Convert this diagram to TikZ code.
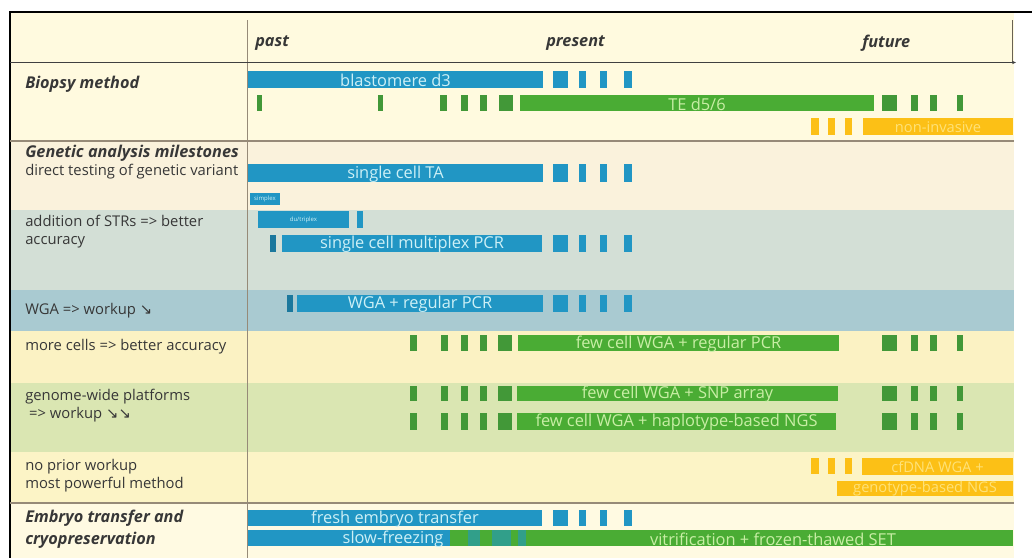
\documentclass[tikz,border=0pt]{standalone}
\usepackage{fontspec}
\setmainfont{Open Sans}
\newfontfamily\symfont{DejaVu Sans}
\usetikzlibrary{arrows.meta}

\definecolor{tlblue}{RGB}{33,150,196}
\definecolor{tlbluetxt}{RGB}{205,240,246}
\definecolor{tlgreen}{RGB}{74,172,52}
\definecolor{tldgreen}{RGB}{66,152,56}
\definecolor{tlgreentxt}{RGB}{200,238,165}
\definecolor{tlorange}{RGB}{252,192,22}
\definecolor{tlorangetxt}{RGB}{255,226,120}
\definecolor{bgcream}{RGB}{255,250,223}
\definecolor{bggenetic}{RGB}{250,242,220}
\definecolor{bgstr}{RGB}{211,223,214}
\definecolor{bgwga}{RGB}{169,202,209}
\definecolor{bgcells}{RGB}{251,242,195}
\definecolor{bggenome}{RGB}{218,230,178}
\definecolor{bgprior}{RGB}{252,244,198}
\definecolor{bgembryo}{RGB}{255,250,226}
\definecolor{tlline}{RGB}{150,138,120}
\definecolor{tllabel}{RGB}{55,55,55}

% bar with its text in the middle
\newcommand{\tlbar}[7]{\path[#1] (#3,#4) rectangle (#5,#6) node[midway,#1text] (#2) {#7};}
% dash groups that repeat from row to row
\newcommand{\bluedashes}[2]{\foreach \a/\b in {553/568,579/586,600/607,624/632}
  \fill[tlblue] (\a,#1) rectangle (\b,#2);}
\newcommand{\greenpre}[2]{\foreach \a/\b in {410/417,441/448,461/468,480/487,498/512}
  \fill[tldgreen] (\a,#1) rectangle (\b,#2);}
\newcommand{\greenpost}[2]{\foreach \a/\b in {882/897,911/918,930/937,957/963}
  \fill[tldgreen] (\a,#1) rectangle (\b,#2);}
\newcommand{\orangedashes}[2]{\foreach \a/\b in {811/819,828/835,845/852}
  \fill[tlorange] (\a,#1) rectangle (\b,#2);}

\begin{document}
\begin{tikzpicture}[x=0.75pt,y=-0.75pt]
\tikzstyle{bluebar}=[fill=tlblue]
\tikzstyle{bluebartext}=[text=tlbluetxt,font=\fontsize{12.3}{12.3}\selectfont,inner sep=0pt,yshift=-0.7pt]
\tikzstyle{greenbar}=[fill=tlgreen]
\tikzstyle{greenbartext}=[text=tlgreentxt,font=\fontsize{12.3}{12.3}\selectfont,inner sep=0pt,yshift=-0.7pt]
\tikzstyle{orangebar}=[fill=tlorange]
\tikzstyle{orangebartext}=[text=tlorangetxt,font=\fontsize{11}{11}\selectfont,inner sep=0pt,yshift=-0.5pt]
\tikzstyle{tinybar}=[fill=tlblue]
\tikzstyle{tinybartext}=[text=tlbluetxt,font=\fontsize{4.5}{4.5}\selectfont,inner sep=0pt]
\tikzstyle{rowlabel}=[anchor=west,inner sep=0pt,text=tllabel,align=left,
  font=\fontsize{11.1}{13.5}\selectfont]
\tikzstyle{headlabel}=[rowlabel,font=\fontsize{12.2}{16.5}\selectfont\bfseries\itshape]
\useasboundingbox (0,0) rectangle (1032,558);

% background bands
\fill[bgcream] (10,12) rectangle (1014,141);
\fill[bggenetic] (10,141) rectangle (1014,210);
\fill[bgstr] (10,210) rectangle (1014,290);
\fill[bgwga] (10,290) rectangle (1014,331);
\fill[bgcells] (10,331) rectangle (1014,383);
\fill[bggenome] (10,383) rectangle (1014,452);
\fill[bgprior] (10,452) rectangle (1014,503);
\fill[bgembryo] (10,503) rectangle (1014,558);

% frame and rules
\draw[line width=1.5pt] (1032,12) -- (10,12) -- (10,558);
\draw[tlline,line width=0.6pt] (247,20) -- (247,558);
\draw[tlline,line width=0.8pt] (10,141) -- (1014,141);
\draw[tlline,line width=0.8pt] (10,503) -- (1014,503);
\draw[tlline!70!black,line width=0.6pt] (1012,20) -- (1012,62);
\coordinate (tstart) at (10,62.5);
\coordinate (tend) at (1016,62.5);
\draw[black!75,line width=0.6pt,-{Stealth[length=3pt,width=2.5pt]}] (tstart) -- (tend);

% time axis
\node[headlabel] (past) at (255,43) {past};
\node[headlabel] (present) at (546,43) {present};
\node[headlabel] (future) at (862,43) {future};

% row labels
\node[headlabel] (biopsy) at (25,84) {Biopsy method};
\node[headlabel] (genetic) at (25,153) {Genetic analysis milestones};
\node[rowlabel] (direct) at (25,172) {direct testing of genetic variant};
\node[rowlabel] (strs) at (25,232) {addition of STRs => better\\accuracy};
\node[rowlabel] (wga) at (25,311) {WGA => workup {\symfont ↘}};
\node[rowlabel] (cells) at (25,347) {more cells => better accuracy};
\node[rowlabel] (genome) at (25,406) {genome-wide platforms\\\ => workup {\symfont ↘↘}};
\node[rowlabel] (prior) at (25,476) {no prior workup\\most powerful method};
\node[headlabel] (embryo) at (25,529) {Embryo transfer and\\cryopreservation};

% biopsy method
\tlbar{bluebar}{blastomere}{248}{71}{543}{88}{blastomere d3}
\bluedashes{71}{88}
\foreach \a/\b in {257/262,378/383,440/447,461/468,480/487,499/513}
  \fill[tldgreen] (\a,95) rectangle (\b,111);
\tlbar{greenbar}{trophect}{520}{95}{874}{111}{TE d5/6}
\greenpost{95}{111}
\orangedashes{118}{135}
\tlbar{orangebar}{noninv}{863}{118}{1013}{135}{non-invasive}

% genetic analysis milestones
\tlbar{bluebar}{singleTA}{248}{164}{543}{182}{single cell TA}
\bluedashes{164}{182}
\tlbar{tinybar}{simplex}{250}{193}{280}{205}{simplex}
\tlbar{tinybar}{triplex}{258}{211}{349}{228}{du/triplex}
\fill[tlblue] (357,211) rectangle (363,228);
\fill[tlblue!80!black] (270,235) rectangle (276,252);
\tlbar{bluebar}{multiplex}{282}{235}{542}{252}{single cell multiplex PCR}
\bluedashes{235}{252}
\fill[tlblue!80!black] (287,295) rectangle (293,312);
\tlbar{bluebar}{wgapcr}{297}{295}{543}{312}{WGA + regular PCR}
\bluedashes{295}{312}
\greenpre{335}{351}
\tlbar{greenbar}{fewpcr}{518}{335}{839}{351}{few cell WGA + regular PCR}
\greenpost{335}{351}
\greenpre{386}{401}
\tlbar{greenbar}{fewsnp}{517}{386}{838}{401}{few cell WGA + SNP array}
\greenpost{386}{401}
\greenpre{413}{430}
\tlbar{greenbar}{fewngs}{517}{413}{836}{430}{few cell WGA + haplotype-based NGS}
\greenpost{413}{430}
\orangedashes{458}{474}
\tlbar{orangebar}{cfdna}{862}{458}{1013}{475}{cfDNA WGA +}
\tlbar{orangebar}{genotype}{837}{481}{1013}{496}{genotype-based NGS}

% embryo transfer and cryopreservation
\tlbar{bluebar}{fresh}{248}{510}{542}{526}{fresh embryo transfer}
\bluedashes{510}{526}
\fill[tlgreen] (450,530) rectangle (1013,546);
\foreach \a/\b in {468/480,492/511,518/526}
  \fill[tlblue!60!tlgreen] (\a,530) rectangle (\b,546);
\fill[tlblue] (248,530) rectangle (450,546);
\node[bluebartext] (slow) at (393,538) {slow-freezing};
\node[greenbartext] (vitri) at (773,538) {vitrification + frozen-thawed SET};
\end{tikzpicture}
\end{document}
